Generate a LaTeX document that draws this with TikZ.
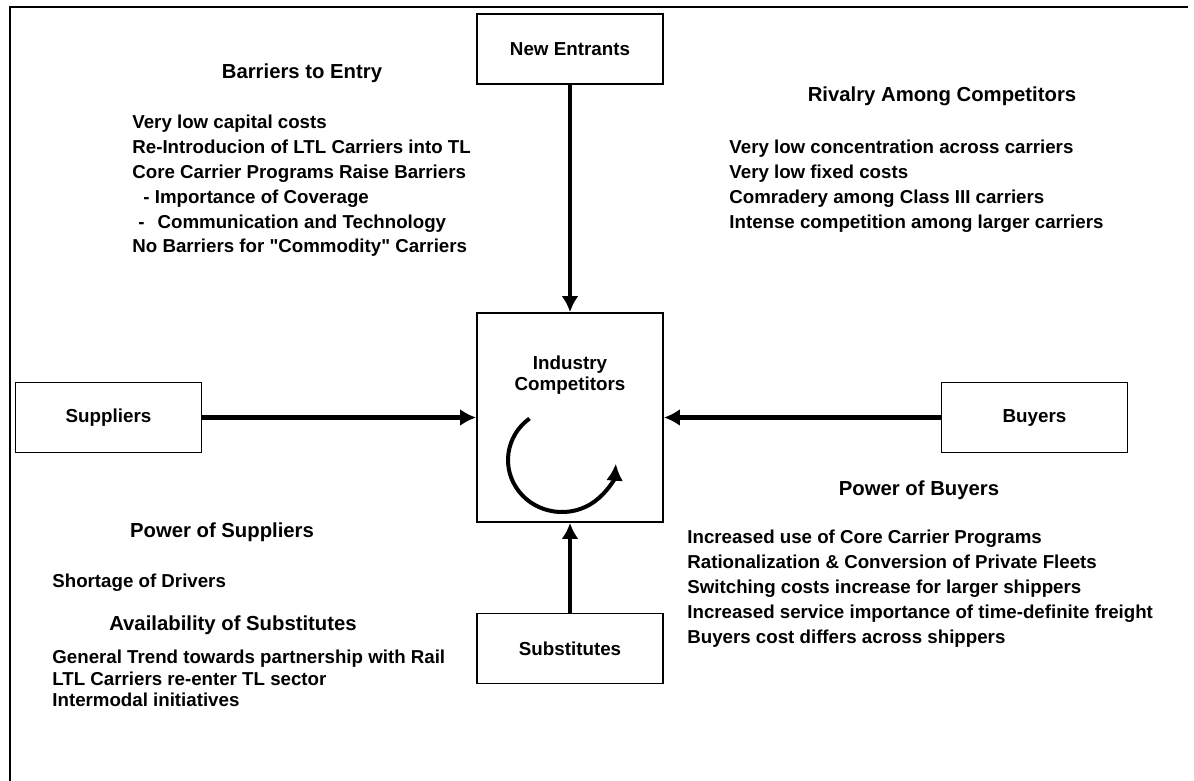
\documentclass[tikz,border=0pt]{standalone}
\usepackage{fontspec}
\setmainfont{Liberation Sans}[Ligatures=TeXOff]
\usetikzlibrary{arrows.meta}
\tikzstyle{force}=[draw,line width=0.9pt,minimum width=93pt,minimum height=35pt,inner sep=0pt,font=\bfseries\fontsize{9.4}{12}\selectfont]
\tikzstyle{edge} = [draw,line width=2.2pt,-{Latex[length=8pt,width=8.5pt]}]
\tikzstyle{heading} = [anchor=base,inner sep=0pt,font=\bfseries\fontsize{10.15}{12}\selectfont]
\tikzstyle{items} = [anchor=north west,align=left,inner sep=0pt,font=\bfseries\fontsize{9.35}{12.4}\selectfont]

\begin{document}
\begin{tikzpicture}[x=0.5pt,y=-0.5pt]
			\useasboundingbox (0,0) rectangle (1194,781);
			\draw[line width=1.3pt] (10,781) -- (10,7) -- (1188,7);

			% First we draw the forces
			\foreach \pos/\name/\txt in {{(570,49)/entrants/New Entrants}, {(108.5,417.5)/suppliers/Suppliers},
									{(1034.5,417.5)/buyers/Buyers}, {(570,648.5)/substitutes/Substitutes}}
			\node[force] (\name) at \pos {\txt};
			\node[force,minimum height=104.5pt] (industry) at (570,417.5) {};
			\node[anchor=north,align=center,inner sep=0pt,font=\bfseries\fontsize{9.4}{10.5}\selectfont] (rivals) at (570,355.5) {Industry\\Competitors};

			% Connect the forces to the industry
			\foreach \source/ \dest in {entrants/industry, suppliers/industry, buyers/industry, substitutes/industry}
			\path[edge] (\source) -- (\dest);

			\coordinate (spin) at (529.5,418.5);
			\draw[line width=2pt,-{Latex[length=8.5pt,width=8.5pt]}] (spin) arc[start angle=233,end angle=4,x radius=54,y radius=52];

			% Then the notes on each force
			\node[heading] (barriers) at (302,79) {Barriers to Entry};
			\node[items] (barrierlist) at (132,115) {Very low capital costs\\Re-Introducion of LTL Carriers into TL\\Core Carrier Programs Raise Barriers\\\hspace*{5.5pt}- Importance of Coverage\\\hspace*{3pt}-\hspace*{6.5pt}Communication and Technology\\No Barriers for "Commodity" Carriers};

			\node[heading] (rivalry) at (942,102) {Rivalry Among Competitors};
			\node[items] (rivalrylist) at (729,140) {Very low concentration across carriers\\Very low fixed costs\\Comradery among Class III carriers\\Intense competition among larger carriers};

			\node[heading] (buyerpower) at (919,495) {Power of Buyers};
			\node[items] (buyerlist) at (687,530) {Increased use of Core Carrier Programs\\Rationalization \& Conversion of Private Fleets\\Switching costs increase for larger shippers\\Increased service importance of time-definite freight\\Buyers cost differs across shippers};

			\node[heading] (supplierpower) at (222,537) {Power of Suppliers};
			\node[items,anchor=base west] (supplierlist) at (52,587) {Shortage of Drivers};

			\node[heading] (substitutepower) at (233,630) {Availability of Substitutes};
			\node[items,font=\bfseries\fontsize{9.35}{10.75}\selectfont] (substitutelist) at (52,650) {General Trend towards partnership with Rail\\LTL Carriers re-enter TL sector\\Intermodal initiatives};

		\end{tikzpicture}
\end{document}
